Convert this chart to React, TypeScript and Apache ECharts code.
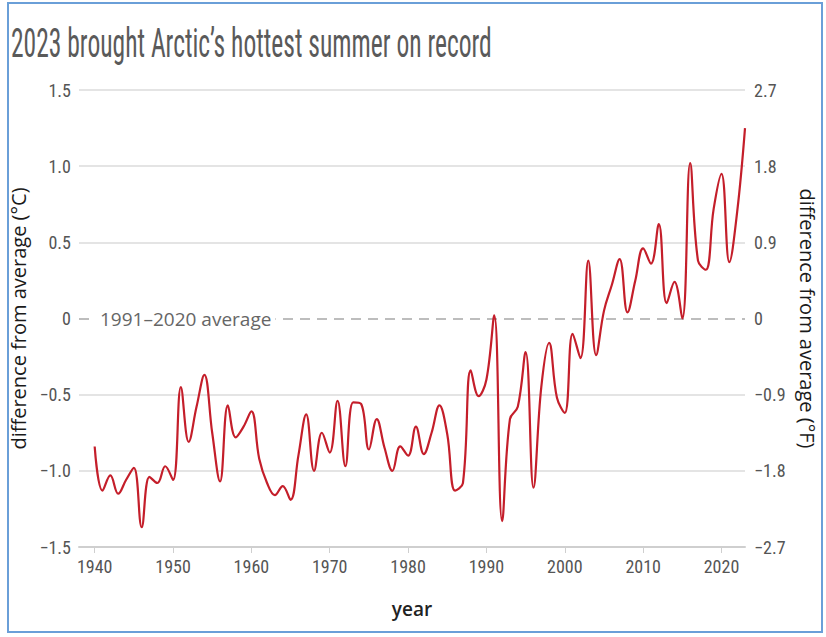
import React, { useEffect, useRef } from 'react';
import * as echarts from 'echarts';

const TITLE = '2023 brought Arctic’s hottest summer on record';
const AVERAGE_LABEL = '1991–2020 average';
const LEFT_NAME = 'difference from average (°C)';
const RIGHT_NAME = 'difference from average (°F)';
const X_NAME = 'year';

const YEARS = [
  1940, 1941, 1942, 1943, 1944, 1945, 1946, 1947, 1948, 1949,
  1950, 1951, 1952, 1953, 1954, 1955, 1956, 1957, 1958, 1959,
  1960, 1961, 1962, 1963, 1964, 1965, 1966, 1967, 1968, 1969,
  1970, 1971, 1972, 1973, 1974, 1975, 1976, 1977, 1978, 1979,
  1980, 1981, 1982, 1983, 1984, 1985, 1986, 1987, 1988, 1989,
  1990, 1991, 1992, 1993, 1994, 1995, 1996, 1997, 1998, 1999,
  2000, 2001, 2002, 2003, 2004, 2005, 2006, 2007, 2008, 2009,
  2010, 2011, 2012, 2013, 2014, 2015, 2016, 2017, 2018, 2019,
  2020, 2021, 2022, 2023,
];

const ANOMALY_C = [
  -0.84, -1.13, -1.03, -1.15, -1.06, -0.98, -1.37, -1.04, -1.08, -0.97,
  -1.06, -0.45, -0.81, -0.58, -0.37, -0.75, -1.07, -0.57, -0.78, -0.71,
  -0.61, -0.92, -1.08, -1.16, -1.10, -1.19, -0.90, -0.63, -1.00, -0.75,
  -0.88, -0.54, -0.97, -0.55, -0.56, -0.86, -0.66, -0.85, -1.00, -0.84,
  -0.90, -0.71, -0.89, -0.75, -0.57, -0.76, -1.13, -1.08, -0.34, -0.51,
  -0.40, 0.02, -1.33, -0.66, -0.58, -0.22, -1.11, -0.45, -0.16, -0.52,
  -0.62, -0.10, -0.26, 0.38, -0.24, 0.05, 0.22, 0.39, 0.04, 0.25,
  0.46, 0.36, 0.62, 0.10, 0.24, 0.00, 1.02, 0.38, 0.32, 0.72,
  0.95, 0.37, 0.70, 1.25,
];

const X_TICKS = [1940, 1950, 1960, 1970, 1980, 1990, 2000, 2010, 2020];
const X_MIN = 1938;
const X_MAX = 2023;
const C_MIN = -1.5;
const C_MAX = 1.5;
const C_STEP = 0.5;
const F_MIN = -2.7;
const F_MAX = 2.7;
const F_STEP = 0.9;
const AVERAGE_VALUE = 0;

const NARROW = "'Liberation Sans Narrow', 'Roboto Condensed', 'DejaVu Sans Condensed', sans-serif";
const BODY = "'Open Sans', 'Noto Sans', sans-serif";

const fmt = (v: number) => {
  if (Math.abs(v) < 1e-9) return '0';
  const s = v.toFixed(1);
  return s.replace('-', '−');
};

export default function App() {
  const ref = useRef<HTMLDivElement>(null);
  useEffect(() => {
    if (!ref.current) return;
    const chart = echarts.init(ref.current, undefined, { renderer: 'svg' });

    const titleFont = `41px ${NARROW}`;
    let sx = 0.6;
    const ctx = document.createElement('canvas').getContext('2d');
    if (ctx) {
      ctx.font = titleFont;
      const w = ctx.measureText(TITLE).width;
      if (w > 0) sx = 481 / w;
    }

    const lineData = YEARS.map((y, i) => [y, ANOMALY_C[i]]);
    const gridColor = '#e4e4e4';
    const none = 'rgba(0,0,0,0)';
    const splitColors = [gridColor, gridColor, gridColor, none, gridColor, gridColor, gridColor];

    const gridLeft = 79;

    chart.setOption({
      animation: false,
      backgroundColor: '#fff',
      grid: { left: gridLeft, right: 81, top: 90, bottom: 90, containLabel: false },
      graphic: [
        {
          id: 'border',
          type: 'rect',
          shape: { x: 8, y: 3, width: 814, height: 629 },
          style: { fill: 'none', stroke: '#6a9fd8', lineWidth: 2 },
          silent: true,
        },
        {
          id: 'title',
          type: 'text',
          x: 11,
          y: 43,
          scaleX: sx,
          style: {
            x: 0,
            y: 0,
            text: TITLE,
            font: titleFont,
            fill: '#5a5a5a',
            verticalAlign: 'middle',
            align: 'left',
          },
          silent: true,
        },
      ],
      xAxis: {
        type: 'value',
        min: X_MIN,
        max: X_MAX,
        name: X_NAME,
        nameLocation: 'middle',
        nameGap: 52,
        nameTextStyle: { fontFamily: BODY, fontSize: 19, fontWeight: 600, color: '#222' },
        axisLine: { show: true, onZero: false, lineStyle: { color: '#cfcfcf', width: 2 } },
        axisTick: { show: true, customValues: X_TICKS, length: 6, lineStyle: { color: '#cfcfcf', width: 1 } },
        axisLabel: {
          customValues: X_TICKS,
          fontFamily: NARROW,
          fontSize: 18,
          color: '#555',
          margin: 10,
          formatter: (v: number) => String(v),
        },
        splitLine: { show: false },
      },
      yAxis: [
        {
          type: 'value',
          min: C_MIN,
          max: C_MAX,
          interval: C_STEP,
          position: 'left',
          name: LEFT_NAME,
          nameLocation: 'middle',
          nameGap: 46,
          nameTextStyle: { fontFamily: BODY, fontSize: 20, fontWeight: 500, color: '#1a1a1a' },
          axisLine: { show: false },
          axisTick: { show: false },
          axisLabel: { fontFamily: NARROW, fontSize: 18, color: '#555', margin: 8, formatter: fmt },
          splitLine: { show: true, lineStyle: { color: splitColors, width: 2 } },
        },
        {
          type: 'value',
          min: F_MIN,
          max: F_MAX,
          interval: F_STEP,
          position: 'right',
          name: RIGHT_NAME,
          nameLocation: 'middle',
          nameGap: 52,
          nameRotate: -90,
          nameTextStyle: { fontFamily: BODY, fontSize: 20, fontWeight: 500, color: '#1a1a1a' },
          axisLine: { show: false },
          axisTick: { show: false },
          axisLabel: { fontFamily: NARROW, fontSize: 18, color: '#555', margin: 9, formatter: fmt },
          splitLine: { show: false },
        },
        {
          // hidden axis used only to draw the dashed 1991–2020 average line
          type: 'value',
          min: C_MIN,
          max: C_MAX,
          interval: C_MAX,
          position: 'left',
          axisLine: { show: false },
          axisTick: { show: false },
          axisLabel: { show: false },
          splitLine: { show: true, lineStyle: { color: [none, '#bdbdbd', none], width: 2, type: [10, 7] } },
        },
      ],
      series: [
        {
          type: 'line',
          data: lineData,
          yAxisIndex: 0,
          smooth: 0.4,
          showSymbol: false,
          symbol: 'none',
          lineStyle: { color: '#c41e2a', width: 2.2 },
          z: 3,
        },
      ],
    });

    const y0 = chart.convertToPixel({ yAxisIndex: 0 }, AVERAGE_VALUE) as number;
    chart.setOption({
      graphic: [
        {
          id: 'avgLabel',
          type: 'text',
          x: gridLeft + 17,
          y: y0,
          z: 10,
          style: {
            text: AVERAGE_LABEL,
            fontFamily: BODY,
            fontSize: 19,
            fill: '#666',
            backgroundColor: '#fff',
            padding: [0, 4],
            verticalAlign: 'middle',
            align: 'left',
          },
          silent: true,
        },
      ],
    });
    return () => chart.dispose();
  }, []);
  return <div ref={ref} style={{ position: 'fixed', left: 0, top: 0, width: 826, height: 637 }} />;
}
